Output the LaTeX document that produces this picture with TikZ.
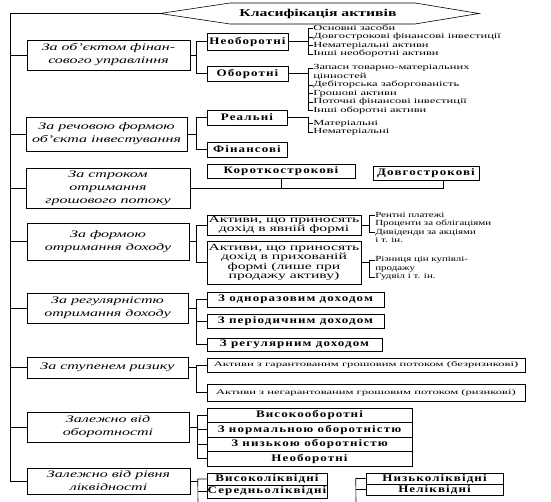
\documentclass[tikz,border=0pt]{standalone}
\usepackage{fontspec}
\setmainfont{Liberation Serif}
\newfontfamily\catf[FakeStretch=1.6]{Liberation Serif}
\newfontfamily\boxf[FakeStretch=1.3,LetterSpace=11]{Liberation Serif}
\newfontfamily\ttlf[FakeStretch=1.5]{Liberation Serif}
\newfontfamily\midf[FakeStretch=1.65]{Liberation Serif}
\newfontfamily\itemf[FakeStretch=1.6]{Liberation Serif}
\newfontfamily\itemg[FakeStretch=1.4]{Liberation Serif}
\newfontfamily\riskf[FakeStretch=1.8]{Liberation Serif}
\begin{document}
\begin{tikzpicture}[x=1pt,y=-1pt,line width=0.6pt,
  cat/.style={draw,align=center,inner sep=0pt,font=\catf\itshape\fontsize{10}{13}\selectfont},
  bx/.style={draw,align=center,inner sep=0pt,font=\boxf\bfseries\fontsize{10}{12}\selectfont},
  bxs/.style={draw,align=center,inner sep=0pt,font=\midf\fontsize{9.5}{9.5}\selectfont},
  rbx/.style={draw,align=center,inner sep=0pt,font=\riskf\fontsize{7}{8}\selectfont},
  item/.style={anchor=west,inner sep=0pt,text height=5pt,text depth=1.5pt,font=\itemf\fontsize{7.8}{8}\selectfont},
  itemb/.style={anchor=west,inner sep=0pt,text height=5pt,text depth=1.5pt,font=\itemg\fontsize{7.8}{8}\selectfont},
  ttl/.style={inner sep=0pt,font=\ttlf\bfseries\fontsize{10.5}{12}\selectfont}]
\useasboundingbox (0,0) rectangle (551,502);
% title
\node[ttl] (title) at (318,13.5) {Класифікація активів};
\coordinate (tip) at (160,13.5);
\coordinate (sp) at (10,13.5);
\draw (tip) -- (230,3) -- (415,3) -- (479,13.5) -- (415,24) -- (230,24) -- cycle;
% categories
\node[cat,minimum width=163pt,minimum height=30pt] (c1) at (108.5,55) {За об’єктом фінан-\\сового управління};
\node[cat,minimum width=161pt,minimum height=34pt] (c2) at (106.5,134) {За речовою формою\\об’єкта інвестування};
\node[cat,minimum width=164pt,minimum height=40pt] (c3) at (108,188) {За строком\\отримання\\грошового потоку};
\node[cat,minimum width=162pt,minimum height=37pt] (c4) at (108,241.5) {За формою\\отримання доходу};
\node[cat,minimum width=161pt,minimum height=30pt] (c5) at (107.5,308) {За регулярністю\\отримання доходу};
\node[cat,minimum width=161pt,minimum height=21pt] (c6) at (107.5,367.5) {За ступенем ризику};
\node[cat,minimum width=162pt,minimum height=30pt] (c7) at (108,427) {Залежно від\\оборотності};
\node[cat,minimum width=163pt,minimum height=26pt] (c8) at (108.5,481) {Залежно від рівня\\ліквідності};
% spine
\draw (tip) -- (sp) |- (c8.west);
\foreach \c in {c1,c2,c3,c4,c5,c6,c7} \draw (\c.west) -- (\c.west -| sp);
% group 1
\node[bx,minimum width=81pt,minimum height=17pt] (n1) at (247.5,41.5) {Необоротні};
\node[bx,minimum width=81pt,minimum height=15pt] (n2) at (247.5,73.5) {Оборотні};
\draw (c1.east) -- ++(7,0);
\draw (n1.west) -- ++(-10,0) |- (n2.west);
\node[item] (a1) at (313,28.5) {Основні засоби};
\node[item] (a2) at (313,37) {Довгострокові фінансові інвестиції};
\node[item] (a3) at (313,45.5) {Нематеріальні активи};
\node[item] (a4) at (313,54) {Інші необоротні активи};
\coordinate (ba) at (308,41.5);
\draw (n1.east) -- (ba);
\draw (a1.west) -- ++(-5,0) |- (a4.west);
\foreach \i in {a2,a3} \draw (\i.west) -- ++(-5,0);
\node[item] (b1) at (313,68) {Запаси товарно-матеріальних};
\node[item] (b1x) at (313,76.5) {цінностей};
\node[item] (b2) at (313,85) {Дебіторська заборгованість};
\node[item] (b3) at (313,93.5) {Грошові активи};
\node[item] (b4) at (313,102) {Поточні фінансові інвестиції};
\node[item] (b5) at (313,110.5) {Інші оборотні активи};
\coordinate (bb) at (308,73.5);
\draw (n2.east) -- (bb);
\draw (b1.west) -- ++(-5,0) |- (b5.west);
\foreach \i in {b2,b3,b4} \draw (\i.west) -- ++(-5,0);
% group 2
\node[bx,minimum width=80pt,minimum height=15pt] (n3) at (247,117.5) {Реальні};
\node[bx,minimum width=80pt,minimum height=15pt] (n4) at (247,149.5) {Фінансові};
\draw (c2.east) -- ++(10,0);
\draw (n3.west) -- ++(-10,0) |- (n4.west);
\node[item] (m1) at (313,123.5) {Матеріальні};
\node[item] (m2) at (313,132) {Нематеріальні};
\coordinate (bm) at (308,117.5);
\draw (n3.east) -- (bm) |- (m2.west);
\draw (m1.west) -- ++(-5,0);
% group 3
\node[bx,minimum width=148pt,minimum height=14pt] (n5) at (281,171) {Короткострокові};
\node[bx,minimum width=106pt,minimum height=14pt] (n6) at (426,173) {Довгострокові};
\coordinate (d6) at ([xshift=17pt]n6.south);
\draw (c3.east) -- (c3.east -| d6) -- (d6);
\draw (n5.south) -- (n5.south |- c3.east);
% group 4
\node[bxs,minimum width=154pt,minimum height=20pt] (n7) at (284,225) {Активи, що приносять\\дохід в явній формі};
\node[bxs,minimum width=154pt,minimum height=43pt] (n8) at (284,262.5) {Активи, що приносять\\дохід в прихованій\\формі (лише при\\продажу активу)};
\draw (c4.east) -- ++(8,0);
\draw (n7.west) -- ++(-10,0) |- (n8.west);
\node[itemb] (p1) at (375,215.5) {Рентні платежі};
\node[itemb] (p2) at (375,224) {Проценти за облігаціями};
\node[itemb] (p3) at (375,232.5) {Дивіденди за акціями};
\node[itemb] (p4) at (375,241) {і т. ін.};
\coordinate (bp) at (369,225);
\draw (n7.east) -- (bp);
\draw (p1.west) -- ++(-6,0) |- (p3.west);
\node[itemb] (q1) at (375,260) {Різниця цін купівлі-};
\node[itemb] (q2) at (375,268.5) {продажу};
\node[itemb] (q3) at (375,277) {Гудвіл і т. ін.};
\coordinate (bq) at (369,262.5);
\draw (n8.east) -- (bq);
\draw (q1.west) -- ++(-6,0) |- (q3.west);
% group 5
\node[bx,minimum width=177pt,minimum height=15pt] (n9) at (295.5,299.5) {З одноразовим доходом};
\node[bx,minimum width=177pt,minimum height=14pt] (n10) at (295.5,321) {З періодичним доходом};
\node[bx,minimum width=175pt,minimum height=13pt] (n11) at (294.5,344.5) {З регулярним доходом};
\draw (c5.east) -- ++(9,0);
\draw (n9.west) -- ++(-10,0) |- (n11.west);
\draw (n10.west) -- ++(-10,0);
% group 6
\node[rbx,minimum width=318pt,minimum height=14pt] (n12) at (366,365) {Активи з гарантованим грошовим потоком (безризикові)};
\node[rbx,minimum width=318pt,minimum height=17pt] (n13) at (366,392.5) {Активи з негарантованим грошовим потоком (ризикові)};
\draw (c6.east) -- ++(9,0);
\draw (n12.west) -- ++(-10,0) |- (n13.west);
% group 7
\node[bx,minimum width=205pt,minimum height=14.5pt] (o1) at (309.5,415.25) {Високооборотні};
\node[bx,minimum width=205pt,minimum height=14.5pt] (o2) at (309.5,429.75) {З нормальною оборотністю};
\node[bx,minimum width=205pt,minimum height=14.5pt] (o3) at (309.5,444.25) {З низькою оборотністю};
\node[bx,minimum width=205pt,minimum height=14.5pt] (o4) at (309.5,458.75) {Необоротні};
\draw (c7.east) -- ++(8,0);
\draw (o1.west) -- ++(-9,0) |- (o4.west);
\foreach \i in {o2,o3} \draw (\i.west) -- ++(-9,0);
% group 8
\node[bx,minimum width=120pt,minimum height=12pt] (l1) at (267,479) {Високоліквідні};
\node[bx,minimum width=120pt,minimum height=13pt] (l2) at (267,491.5) {Середньоліквідні};
\node[bx,minimum width=137pt,minimum height=11pt] (r1) at (434.5,478.5) {Низьколіквідні};
\node[bx,minimum width=137pt,minimum height=11pt] (r2) at (434.5,489.5) {Неліквідні};
\coordinate (e1) at (198,502);
\coordinate (e2) at (356,502);
\draw (c8.east) -- ++(8,0);
\draw (l1.west) -- ++(-9,0) -- (e1);
\draw (l2.west) -- ++(-9,0);
\draw (r1.west) -- ++(-10,0) -- (e2);
\draw (r2.west) -- ++(-10,0);
\end{tikzpicture}
\end{document}
